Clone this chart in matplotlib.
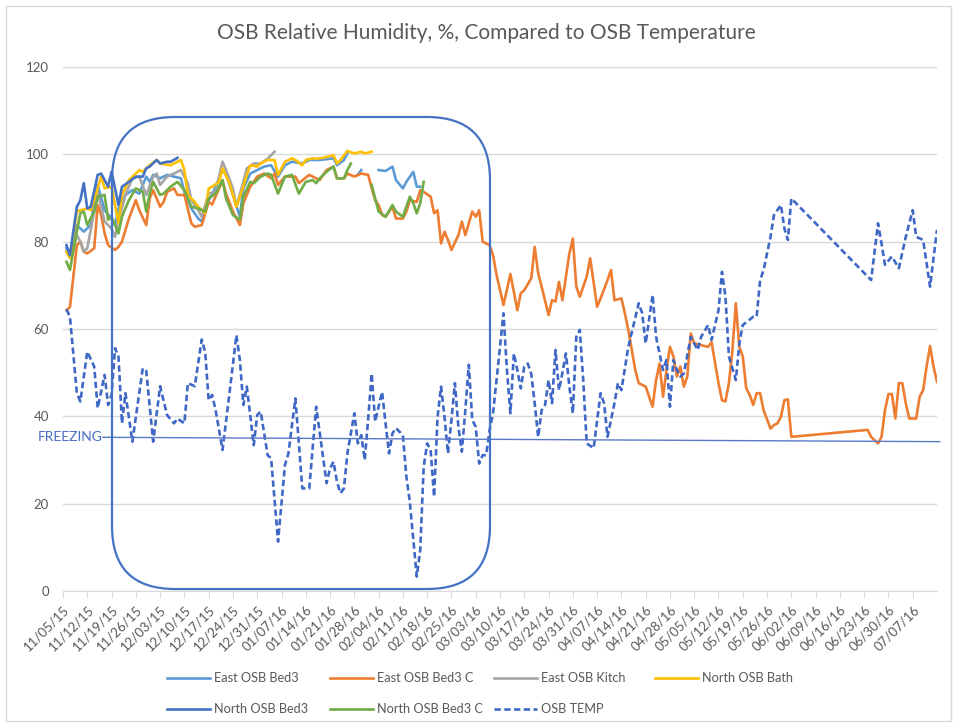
import numpy as np
import pandas as pd
import matplotlib
matplotlib.use("Agg")
import matplotlib.pyplot as plt
import matplotlib.transforms as mtransforms
from matplotlib.patches import FancyBboxPatch, Rectangle

# === Data (day offset from 11/05/15, value) ===
start_date = "2015-11-05"
nan = np.nan

east_bed3 = [(1, 78.5), (2, 76.5), (4, 83.8), (5, 83.0), (6, 82.3), (8, 83.8), (9, 89.1), (10, 93.0),
             (12, 87.2), (14, 85.3), (15, 83.8), (16, 87.6), (18, 90.7), (20, 91.8), (22, 91.0), (24, 94.9),
             (25, 93.7), (26, 95.3), (28, 94.5), (30, 95.3), (32, 94.9), (34, 94.5), (35, 91.4), (37, 87.6),
             (39, 85.3), (40, 84.6), (42, 89.5), (43, 90.7), (46, 96.4), (47, 95.5), (49, 90.7), (51, 85.7),
             (52, 92.2), (54, 95.6), (56, 96.4), (58, 97.2), (60, 97.5), (62, 94.9), (64, 97.5), (66, 98.3),
             (69, 97.9), (71, 98.7), (74, 98.7), (78, 99.1), (79, 97.5), (81, 98.7), (82, 100.2), (83, nan),
             (85, 95.3), (86, 96.4), (87, nan), (91, 96.4), (93, 96.2), (95, 97.2), (96, 94.1), (98, 92.2),
             (99, 93.7), (101, 96.0), (102, 92.6), (103, 92.6)]

east_bed3_c = [(1, 64.3), (2, 65.0), (3, 72.0), (4, 79.2), (5, 80.0), (6, 77.7), (7, 77.3), (9, 78.5),
               (10, 88.4), (11, 86.1), (12, 81.9), (13, 79.2), (15, 78.1), (16, 78.8), (17, 80.0), (19, 85.3),
               (21, 89.5), (22, 87.2), (24, 83.8), (25, 89.9), (26, 91.8), (28, 88.0), (29, 89.1), (30, 91.4),
               (32, 92.2), (33, 90.7), (35, 90.7), (37, 84.2), (38, 83.4), (40, 83.8), (42, 89.1), (43, 88.5),
               (46, 94.0), (47, 91.0), (49, 86.9), (51, 83.8), (52, 88.8), (54, 92.6), (56, 94.9), (58, 95.6),
               (60, 94.5), (61, 95.6), (62, 93.0), (64, 94.9), (67, 94.9), (68, 93.4), (71, 95.3), (74, 94.1),
               (76, 96.4), (78, 97.2), (79, 94.5), (81, 94.5), (82, 95.6), (84, 94.9), (86, 95.6), (88, 95.3),
               (89, 92.2), (90, 89.5), (91, 88.4), (92, 86.1), (93, 85.7), (95, 88.0), (96, 85.3), (98, 85.3),
               (99, 86.9), (100, 89.5), (102, 89.1), (103, 91.8), (104, 91.4), (106, 90.3), (107, 86.5),
               (108, 87.2), (109, 79.6), (110, 82.3), (111, 80.4), (112, 78.1), (114, 81.5), (115, 84.6),
               (116, 81.5), (118, 86.9), (119, 85.7), (120, 87.2), (121, 80.0), (123, 79.2), (124, 76.9),
               (125, 72.4), (127, 65.5), (129, 72.6), (131, 64.3), (132, 68.2), (133, 68.9), (135, 71.6),
               (136, 78.8), (137, 72.8), (138, 69.7), (140, 63.2), (141, 66.6), (142, 66.3), (143, 70.8),
               (144, 66.6), (146, 77.3), (147, 80.7), (148, 69.7), (149, 67.4), (151, 72.0), (152, 76.2),
               (154, 65.1), (155, 67.0), (157, 71.2), (158, 73.5), (159, 66.6), (161, 67.0), (162, 63.6),
               (163, 59.8), (164, 55.2), (165, 50.6), (166, 47.6), (168, 46.8), (170, 42.2), (171, 48.3),
               (172, 52.1), (173, 44.5), (174, 50.6), (175, 55.9), (176, 53.7), (177, 49.1), (178, 51.4),
               (179, 46.8), (180, 49.1), (181, 59.0), (182, 56.7), (184, 56.3), (186, 55.9), (187, 57.0),
               (189, 47.6), (190, 43.7), (191, 43.4), (192, 47.6), (193, 55.0), (194, 65.9), (195, 55.9),
               (196, 53.7), (197, 46.4), (198, 44.9), (199, 42.6), (200, 45.3), (201, 45.3), (202, 41.4),
               (204, 37.2), (205, 38.0), (206, 38.4), (207, 39.9), (208, 43.7), (209, 43.9), (210, 35.3),
               (232, 36.9), (233, 35.3), (235, 33.8), (236, 35.3), (237, 41.4), (238, 45.1), (239, 45.1),
               (240, 39.5), (241, 47.6), (242, 47.6), (243, 43.0), (244, 39.5), (246, 39.5), (247, 44.5),
               (248, 46.0), (249, 51.4), (250, 56.1), (251, 51.4), (252, 47.9)]

east_kitch = [(1, 77.7), (2, 76.5), (4, 81.5), (5, 80.0), (6, 77.7), (7, 78.5), (9, 86.9), (10, 91.4),
              (12, 84.6), (14, 83.0), (15, 81.1), (16, 84.6), (18, 90.7), (20, 94.5), (22, 94.9), (24, 90.7),
              (26, 94.9), (27, 95.6), (28, 93.0), (30, 94.9), (32, 95.6), (34, 96.4), (36, 93.4), (37, 89.5),
              (39, 87.2), (40, 85.7), (42, 91.0), (44, 91.4), (46, 98.3), (47, 96.4), (49, 92.2), (50, 88.0),
              (52, 93.7), (53, 96.8), (55, 97.9), (57, 97.9), (59, 99.0), (61, 100.6)]

north_bath = [(1, 77.7), (2, 76.2), (4, 86.9), (5, 87.2), (7, 87.6), (8, 87.2), (10, 92.2), (11, 94.9),
              (12, 92.2), (14, 92.6), (16, 84.2), (17, 90.7), (19, 94.1), (21, 95.6), (22, 96.4), (23, 96.0),
              (25, 97.5), (27, 98.7), (28, 97.9), (31, 97.5), (34, 98.7), (35, 96.4), (36, 90.7), (38, 89.1),
              (39, 88.0), (41, 86.5), (42, 92.2), (43, 92.6), (45, 93.7), (46, 96.8), (48, 93.4), (50, 88.0),
              (52, 92.6), (53, 95.3), (54, 97.5), (56, 97.2), (57, 97.9), (59, 98.7), (61, 98.7), (62, 95.3),
              (64, 98.3), (66, 99.1), (67, 98.7), (69, 97.5), (70, 98.7), (72, 99.1), (73, 99.0), (75, 99.2),
              (76, 99.4), (78, 99.8), (79, 97.9), (80, 98.7), (82, 100.8), (84, 100.2), (86, 100.6),
              (87, 100.2), (89, 100.6)]

north_bed3 = [(1, 79.2), (2, 76.9), (4, 88.0), (5, 89.5), (6, 93.4), (7, 87.6), (8, 88.0), (10, 95.3),
              (11, 95.6), (13, 92.6), (14, 96.0), (16, 88.4), (17, 92.6), (19, 93.7), (21, 94.9), (23, 94.9),
              (24, 96.8), (25, 97.2), (27, 98.7), (28, 97.9), (30, 98.3), (31, 98.3), (33, 99.2)]

north_bed3_c = [(1, 75.4), (2, 73.5), (4, 82.3), (5, 86.5), (6, 86.9), (7, 83.8), (9, 86.9), (10, 90.3),
                (12, 90.7), (13, 85.0), (14, 85.7), (16, 81.9), (17, 85.7), (19, 89.5), (21, 92.2), (23, 91.4),
                (24, 86.9), (25, 91.0), (26, 93.7), (28, 90.7), (29, 91.0), (31, 92.6), (33, 93.7), (35, 91.8),
                (37, 88.0), (39, 87.6), (41, 86.9), (42, 89.9), (44, 91.0), (46, 94.1), (47, 89.9), (49, 86.1),
                (51, 85.0), (52, 90.3), (54, 93.7), (55, 93.4), (57, 94.9), (59, 95.6), (60, 95.3), (62, 91.0),
                (64, 94.9), (66, 95.3), (68, 91.0), (70, 93.7), (72, 94.1), (73, 93.4), (74, 94.5), (76, 96.0),
                (78, 97.2), (79, 94.5), (81, 94.5), (82, 96.4), (83, 97.9), (84, nan), (89, 93.0), (90, 89.9),
                (91, 86.9), (93, 85.7), (95, 88.4), (96, 86.9), (98, 85.7), (99, 88.0), (100, 90.3),
                (101, 88.8), (102, 86.5), (103, 88.8), (104, 93.7)]

osb_temp = [(1, 64.5), (2, 62.8), (4, 45.3), (5, 43.4), (7, 54.8), (9, 51.4), (10, 41.9), (12, 49.5),
            (13, 42.6), (14, 44.9), (15, 55.6), (16, 53.7), (17, 38.4), (18, 45.3), (20, 34.2), (23, 51.0),
            (24, 50.4), (26, 34.2), (28, 46.9), (30, 40.3), (32, 38.4), (33, 39.5), (35, 38.4), (36, 47.6),
            (38, 46.9), (40, 57.6), (41, 54.7), (42, 43.7), (43, 44.9), (44, 41.4), (46, 32.3), (48, 45.3),
            (50, 58.6), (51, 52.9), (52, 42.6), (53, 46.8), (55, 33.4), (56, 40.3), (57, 41.1), (59, 31.1),
            (60, 30.4), (62, 11.3), (64, 28.9), (65, 31.5), (67, 44.1), (69, 23.5), (71, 23.5), (73, 42.2),
            (76, 24.7), (77, 28.1), (78, 29.6), (79, 25.0), (80, 22.4), (81, 23.5), (82, 31.5), (84, 40.7),
            (85, 33.8), (86, 35.7), (87, 30.0), (88, 39.5), (89, 49.8), (90, 38.8), (92, 45.6), (93, 38.4),
            (94, 31.5), (95, 36.1), (96, 37.3), (98, 35.7), (99, 26.2), (100, 20.4), (102, 3.3), (103, 9.4),
            (104, 28.5), (105, 33.8), (106, 32.3), (107, 21.6), (108, 39.9), (109, 46.8), (110, 39.9),
            (111, 31.5), (112, 39.2), (113, 47.6), (114, 37.6), (115, 31.9), (116, 41.4), (117, 51.8),
            (118, 39.2), (119, 37.6), (120, 29.2), (121, 31.1), (122, 31.1), (123, 36.9), (124, 40.7),
            (126, 55.9), (127, 63.6), (128, 50.6), (129, 40.7), (130, 54.4), (131, 50.6), (132, 46.4),
            (133, 51.4), (134, 52.1), (135, 49.8), (136, 43.0), (137, 35.3), (138, 41.4), (139, 42.6),
            (140, 48.3), (141, 43.0), (142, 55.2), (143, 46.0), (144, 50.0), (145, 54.4), (146, 46.8),
            (147, 40.7), (148, 58.2), (149, 59.8), (150, 48.3), (151, 33.8), (153, 32.7), (155, 45.3),
            (156, 43.0), (157, 35.3), (159, 43.0), (160, 47.6), (161, 46.0), (163, 55.9), (166, 65.9),
            (167, 63.6), (168, 56.7), (170, 67.8), (171, 58.2), (173, 50.6), (174, 52.9), (175, 42.2),
            (176, 52.9), (177, 50.6), (178, 49.1), (179, 49.8), (181, 58.2), (183, 55.2), (184, 58.2),
            (186, 60.9), (187, 57.5), (189, 64.3), (190, 73.1), (191, 67.4), (192, 53.7), (194, 48.3),
            (195, 56.7), (196, 60.9), (199, 62.8), (200, 62.8), (201, 71.2), (202, 73.5), (204, 81.1),
            (205, 86.1), (207, 88.4), (208, 83.0), (209, 80.4), (210, 89.9), (233, 71.2), (235, 84.2),
            (236, 79.6), (237, 74.7), (239, 76.6), (241, 73.9), (243, 81.1), (245, 87.2), (246, 81.1),
            (248, 80.4), (250, 69.7), (252, 82.7)]

freezing_line = [(11.5, 35.2), (252.8, 34.2)]

series = [
    ("East OSB Bed3", east_bed3, "#5B9BD5", "-"),
    ("East OSB Bed3 C", east_bed3_c, "#ED7D31", "-"),
    ("East OSB Kitch", east_kitch, "#A5A5A5", "-"),
    ("North OSB Bath", north_bath, "#FFC000", "-"),
    ("North OSB Bed3", north_bed3, "#4472C4", "-"),
    ("North OSB Bed3 C", north_bed3_c, "#70AD47", "-"),
    ("OSB TEMP", osb_temp, "#3F68C6", "--"),
]

week_labels = pd.date_range(start_date, periods=36, freq="7D").strftime("%m/%d/%y")
week_ticks = np.arange(36) * 7

# === Figure ===
plt.rcParams["font.family"] = ["Lato", "DejaVu Sans"]
fig = plt.figure(figsize=(9.57, 7.27), dpi=100)
ax = fig.add_axes([63 / 957, 136 / 727, 874 / 957, 524 / 727])

handles = []
for name, pts, color, ls in series:
    days, vals = zip(*pts)
    if ls == "--":
        ln, = ax.plot(days, vals, color=color, lw=1.9, dashes=(2.4, 1.3), label=name)
    else:
        ln, = ax.plot(days, vals, color=color, lw=1.9, label=name, solid_joinstyle="round")
    handles.append(ln)

# freezing reference line
fx, fy = zip(*freezing_line)
ax.plot(fx, fy, color="#5A78C8", lw=1.0, clip_on=False)
ax.text(-7.4, 35.3, "FREEZING", color="#4A6CC2", fontsize=10, va="center", ha="left")

ax.set_xlim(0, 252)
ax.set_ylim(0, 120)
ax.set_yticks(range(0, 121, 20))
ax.set_xticks(week_ticks)
ax.set_xticklabels(week_labels, rotation=45, ha="right", rotation_mode="anchor")
ax.grid(axis="y", color="#D9D9D9", lw=1)
ax.set_axisbelow(True)
for s in ["top", "right", "left"]:
    ax.spines[s].set_visible(False)
ax.spines["bottom"].set_color("#D9D9D9")
ax.tick_params(axis="y", length=0, pad=10, labelsize=9.5, labelcolor="#595959")
ax.tick_params(axis="x", length=5, color="#D9D9D9", pad=4, labelsize=9.5, labelcolor="#595959")

fig.text(0.508, 0.955, "OSB Relative Humidity, %, Compared to OSB Temperature",
         ha="center", va="center", fontsize=15, color="#595959")

# highlight box around the winter period
ident = mtransforms.IdentityTransform()
box = FancyBboxPatch((112, 138), 378, 472, boxstyle="round,pad=0,rounding_size=63",
                     fill=False, edgecolor="#4472C4", lw=1.6, transform=ident)
fig.add_artist(box)

# chart border
fig.add_artist(Rectangle((6, 6), 945, 715, fill=False, edgecolor="#D9D9D9", lw=1, transform=ident))

# legend: one column per legend box so the columns sit evenly spaced like the original
columns = [[0, 4], [1, 5], [2, 6], [3]]
col_x = [167, 330, 494, 655]
for idx, x0 in zip(columns, col_x):
    leg = fig.legend([handles[i] for i in idx], [series[i][0] for i in idx],
                     loc="upper left", bbox_to_anchor=(x0 / 957, 1 - 672 / 727),
                     frameon=False, fontsize=9.2, labelcolor="#595959",
                     handlelength=3.4, handletextpad=0.3, labelspacing=1.5,
                     borderpad=0, borderaxespad=0)

fig.savefig("out.png", dpi=100)
